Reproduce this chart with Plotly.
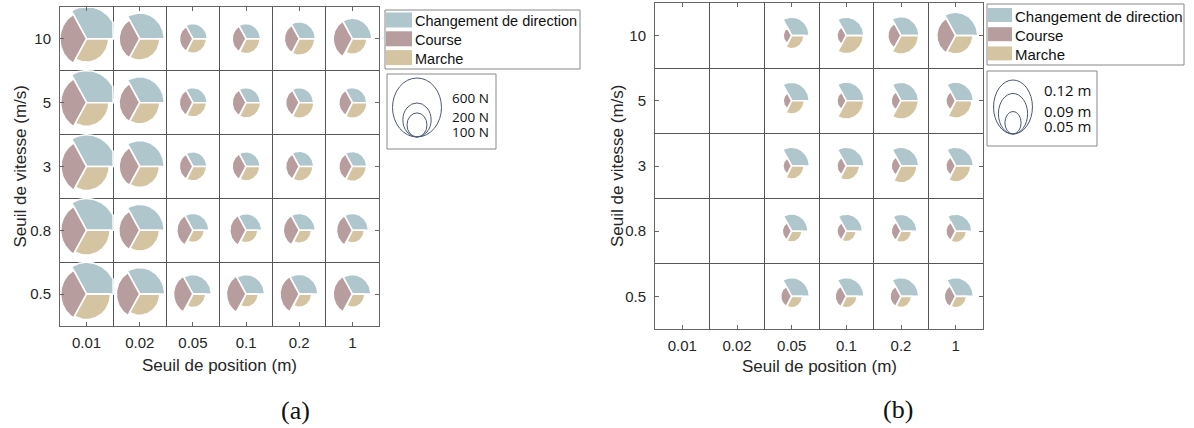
import numpy as np
import plotly.graph_objects as go

# ---------------- data ----------------
positions = ['0.01', '0.02', '0.05', '0.1', '0.2', '1']      # Seuil de position (m)
speeds_top_down = ['10', '5', '3', '0.8', '0.5']            # Seuil de vitesse (m/s)
series_names = ['Changement de direction', 'Course', 'Marche']

# Panel (a): forces in N (rows = speeds top->bottom, cols = positions)
a_direction = [[650, 414, 145, 145, 181, 262],
               [641, 414, 141, 141, 141, 141],
               [621, 414, 135, 135, 145, 141],
               [621, 414, 177, 170, 177, 177],
               [621, 431, 236, 236, 241, 236]]
a_course = [[492, 295, 126, 135, 155, 257],
            [466, 295, 129, 135, 129, 129],
            [455, 295, 129, 135, 129, 129],
            [466, 304, 181, 183, 177, 177],
            [466, 381, 262, 268, 257, 257]]
a_marche = [[334, 276, 126, 135, 166, 145],
            [343, 276, 126, 145, 149, 149],
            [355, 268, 129, 129, 131, 135],
            [381, 268, 91, 96, 104, 99],
            [397, 276, 111, 104, 108, 108]]

# Panel (b): distances in m (None = no data)
b_direction = [[None, None, 0.078, 0.078, 0.080, 0.098],
               [None, None, 0.078, 0.079, 0.078, 0.079],
               [None, None, 0.079, 0.079, 0.079, 0.079],
               [None, None, 0.073, 0.072, 0.071, 0.072],
               [None, None, 0.079, 0.079, 0.079, 0.079]]
b_course = [[None, None, 0.038, 0.042, 0.059, 0.084],
            [None, None, 0.038, 0.042, 0.044, 0.044],
            [None, None, 0.039, 0.042, 0.044, 0.044],
            [None, None, 0.042, 0.042, 0.044, 0.044],
            [None, None, 0.049, 0.050, 0.049, 0.051]]
b_marche = [[None, None, 0.055, 0.076, 0.078, 0.077],
            [None, None, 0.056, 0.077, 0.077, 0.073],
            [None, None, 0.055, 0.059, 0.071, 0.067],
            [None, None, 0.046, 0.044, 0.047, 0.048],
            [None, None, 0.048, 0.048, 0.047, 0.048]]

a_legend_values = [600, 200, 100]
a_legend_labels = ['600 N', '200 N', '100 N']
b_legend_values = [0.12, 0.09, 0.05]
b_legend_labels = ['0.12 m', '0.09 m', '0.05 m']

# ---------------- styling / layout constants ----------------
W, H = 1194, 428
COLORS = ['#aec6cc', '#b89d9f', '#d4c4a2']
SECTORS = [(0, 120), (120, 240), (240, 360)]
GRID = '#555555'
FONT = 'Liberation Sans'
TXT = '#262626'
STRETCH = 1.06


def X(px):
    return px / W


def Y(py):
    return 1 - py / H


panels = [
    dict(data=(a_direction, a_course, a_marche),
         scale=lambda v: 29.5 * np.sqrt(v / 600.0),
         box=(60, 379, 7, 326), xa='x', ya='y',
         leg1=(385, 580, 10, 69), patch_rows=(20, 38.8, 57.6), patch_w=(386, 412), patch_h=15,
         leg_font=14.5,
         leg2=(387, 496, 74, 149), ell_c=(417, 137), ell_aspect=0.83,
         ell_vals=a_legend_values, ell_labels=a_legend_labels, ell_lab_x=450,
         ell_lab_y=(98, 117, 132), ell_font=13.5,
         ytitle_x=20, xtitle_y=365, tag='(a)', tag_x=295, tag_y=410),
    dict(data=(b_direction, b_course, b_marche),
         scale=lambda v: 27.0 * v / 0.12,
         box=(655, 983, 3, 329), xa='x2', ya='y2',
         leg1=(987, 1184, 4, 65), patch_rows=(15, 34.2, 53.4), patch_w=(988, 1012), patch_h=14,
         leg_font=15,
         leg2=(987, 1097, 71, 146), ell_c=(1013, 134), ell_aspect=0.72,
         ell_vals=b_legend_values, ell_labels=b_legend_labels, ell_lab_x=1042,
         ell_lab_y=(90, 111, 126), ell_font=15,
         ytitle_x=617, xtitle_y=366, tag='(b)', tag_x=898, tag_y=409),
]

fig = go.Figure()
shapes = []
annotations = []

for pi, p in enumerate(panels):
    x0, x1, yt, yb = p['box']
    xppu = (x1 - x0) / len(positions)
    yppu = (yb - yt) / len(speeds_top_down)
    nrows = len(speeds_top_down)
    for si, series in enumerate(p['data']):
        a0, a1 = np.deg2rad(SECTORS[si][0]), np.deg2rad(SECTORS[si][1])
        th = np.linspace(a0, a1, 48)
        xs, ys = [], []
        for ri, row in enumerate(series):
            cy = nrows - 1 - ri
            for ci, v in enumerate(row):
                if v is None:
                    continue
                r = p['scale'](v)
                rx = r / xppu
                ry = r * STRETCH / yppu
                px = np.concatenate([[ci], ci + rx * np.cos(th), [ci]])
                py = np.concatenate([[cy], cy + ry * np.sin(th), [cy]])
                px = np.clip(px, ci - 0.5, ci + 0.5)
                py = np.clip(py, cy - 0.5, cy + 0.5)
                xs += list(px) + [None]
                ys += list(py) + [None]
        fig.add_trace(go.Scatter(
            x=xs, y=ys, mode='lines', fill='toself', fillcolor=COLORS[si],
            line=dict(color='white', width=1.6), name=series_names[si],
            showlegend=False, hoverinfo='skip',
            xaxis=p['xa'], yaxis=p['ya']))

    # axes
    axn = '' if pi == 0 else '2'
    common = dict(showgrid=False, zeroline=False, showline=True, linecolor='#666666',
                  linewidth=1, mirror='ticks', ticks='inside', ticklen=4,
                  tickcolor='#666666', tickfont=dict(family=FONT, size=15, color=TXT))
    fig.update_layout(**{
        'xaxis' + axn: dict(domain=[X(x0), X(x1)], range=[-0.5, len(positions) - 0.5],
                            tickvals=list(range(len(positions))), ticktext=positions,
                            anchor='y' + axn, ticklabelstandoff=3,
                            minor=dict(tickvals=[i + 0.5 for i in range(len(positions) - 1)],
                                       showgrid=True, gridcolor=GRID, gridwidth=1, ticklen=0),
                            **common),
        'yaxis' + axn: dict(domain=[Y(yb), Y(yt)], range=[-0.5, nrows - 0.5],
                            tickvals=list(range(nrows)), ticktext=speeds_top_down[::-1],
                            anchor='x' + axn, ticklabelstandoff=5,
                            minor=dict(tickvals=[i + 0.5 for i in range(nrows - 1)],
                                       showgrid=True, gridcolor=GRID, gridwidth=1, ticklen=0),
                            **common),
    })

    # axis titles
    annotations.append(dict(text='Seuil de position (m)', x=X((x0 + x1) / 2), y=Y(p['xtitle_y']),
                            xref='paper', yref='paper', showarrow=False, xanchor='center',
                            yanchor='middle', font=dict(family=FONT, size=17, color=TXT)))
    annotations.append(dict(text='Seuil de vitesse (m/s)', x=X(p['ytitle_x']), y=Y((yt + yb) / 2),
                            xref='paper', yref='paper', showarrow=False, textangle=-90,
                            xanchor='center', yanchor='middle',
                            font=dict(family=FONT, size=17, color=TXT)))
    annotations.append(dict(text=p['tag'], x=X(p['tag_x']), y=Y(p['tag_y']), xref='paper',
                            yref='paper', showarrow=False, xanchor='center', yanchor='middle',
                            font=dict(family='Liberation Serif', size=26, color='#111111')))

    # color legend box
    lx0, lx1, ly0, ly1 = p['leg1']
    shapes.append(dict(type='rect', xref='paper', yref='paper', x0=X(lx0), x1=X(lx1),
                       y0=Y(ly1), y1=Y(ly0), line=dict(color='#888888', width=1),
                       fillcolor='white'))
    for k, name in enumerate(series_names):
        cyp = p['patch_rows'][k]
        shapes.append(dict(type='rect', xref='paper', yref='paper',
                           x0=X(p['patch_w'][0]), x1=X(p['patch_w'][1]),
                           y0=Y(cyp + p['patch_h'] / 2), y1=Y(cyp - p['patch_h'] / 2),
                           line=dict(width=0), fillcolor=COLORS[k]))
        annotations.append(dict(text=name, x=X(p['patch_w'][1] + 1), y=Y(cyp + 1),
                                xref='paper', yref='paper', showarrow=False,
                                xanchor='left', yanchor='middle',
                                font=dict(family=FONT, size=p['leg_font'], color='#111111')))

    # size legend box
    sx0, sx1, sy0, sy1 = p['leg2']
    shapes.append(dict(type='rect', xref='paper', yref='paper', x0=X(sx0), x1=X(sx1),
                       y0=Y(sy1), y1=Y(sy0), line=dict(color='#888888', width=1),
                       fillcolor='white'))
    ecx, ebot = p['ell_c']
    for k, v in enumerate(p['ell_vals']):
        ry = p['scale'](v)
        rx = ry * p['ell_aspect']
        shapes.append(dict(type='circle', xref='paper', yref='paper',
                           x0=X(ecx - rx), x1=X(ecx + rx), y0=Y(ebot), y1=Y(ebot - 2 * ry),
                           line=dict(color='#4a5877', width=1)))
        annotations.append(dict(text=p['ell_labels'][k], x=X(p['ell_lab_x']),
                                y=Y(p['ell_lab_y'][k]), xref='paper', yref='paper',
                                showarrow=False, xanchor='left', yanchor='middle',
                                font=dict(family='Open Sans', size=p['ell_font'], color='#111111')))

fig.update_layout(width=W, height=H, margin=dict(l=0, r=0, t=0, b=0),
                  paper_bgcolor='white', plot_bgcolor='white', showlegend=False,
                  shapes=shapes, annotations=annotations)

# remove the default page margin so the figure sits at the window's top-left corner
fig.write_html('out.html', config={'displayModeBar': False},
               post_script="document.body.style.margin='0px';document.body.style.overflow='hidden';")
